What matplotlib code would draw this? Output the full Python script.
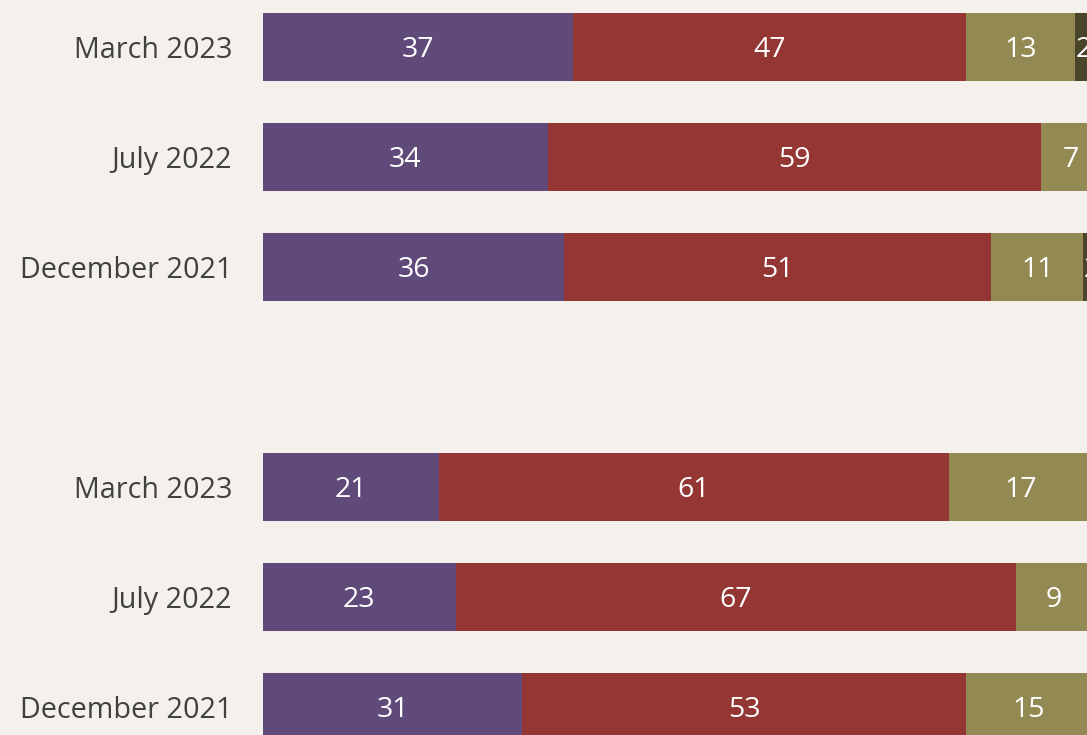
import matplotlib
matplotlib.use("Agg")
import matplotlib.pyplot as plt

plt.rcParams['font.family'] = ['Open Sans', 'DejaVu Sans']

categories = ["March 2023", "July 2022", "December 2021", "",
              "March 2023", "July 2022", "December 2021"]
series1 = [37, 34, 36, None, 21, 23, 31]
series2 = [47, 59, 51, None, 61, 67, 53]
series3 = [13, 7, 11, None, 17, 9, 15]
series4 = [2, 0, 2, None, 1, 1, 1]

colors = ["#5F4A7A", "#943634", "#938953", "#4A452A"]
bg = "#F4F1EC"

W, H = 1087, 735
fig = plt.figure(figsize=(W / 100, H / 100), dpi=100, facecolor=bg)
left_px = 263
unit_px = 8.37
ax = fig.add_axes([left_px / W, 0, 100 * unit_px / W, 1])
ax.set_facecolor(bg)

row_top = 47
row_step = 110
ymin = -row_top / row_step
ymax = (H - row_top) / row_step
ax.set_ylim(ymax, ymin)
ax.set_xlim(0, 100)

series = [series1, series2, series3, series4]
for i, cat in enumerate(categories):
    if series1[i] is None:
        continue
    start = 0
    for s, col in zip(series, colors):
        v = s[i]
        if v:
            ax.barh(i, v, left=start, height=0.62, color=col, edgecolor='none')
            ax.text(start + v / 2, i, f"{v}", ha='center', va='center_baseline',
                    color='white', fontsize=20.5)
        start += v
    ax.text(-3.7, i, cat, ha='right', va='center_baseline', color='#404040',
            fontsize=20.7, clip_on=False)

for sp in ax.spines.values():
    sp.set_visible(False)
ax.set_xticks([])
ax.set_yticks([])

fig.savefig("out.png", dpi=100, facecolor=bg)
